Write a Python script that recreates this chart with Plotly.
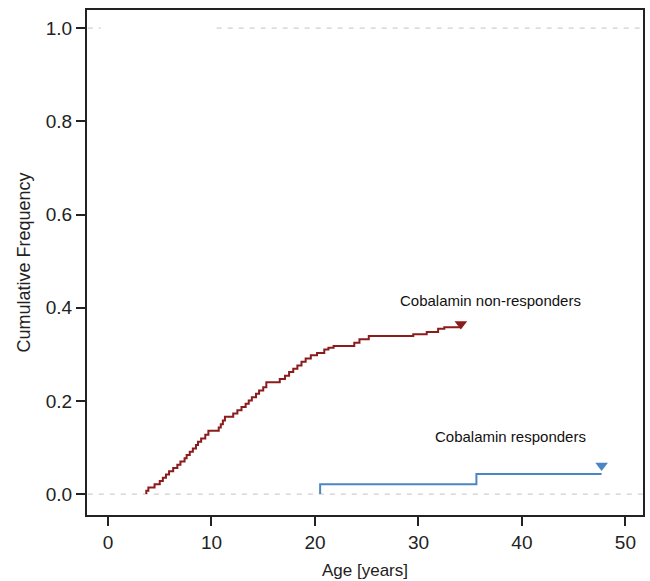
import plotly.graph_objects as go

# Cobalamin non-responders: step change points (age in years, cumulative frequency)
nonresp_age = [3.7, 3.7, 3.9, 4.5, 5.0, 5.3, 5.6, 5.9, 6.3, 6.7, 7.0, 7.4, 7.6, 7.9, 8.2, 8.5,
               8.7, 9.0, 9.4, 9.7, 10.7, 10.9, 11.1, 11.3, 12.1, 12.5, 12.9, 13.3, 13.6, 13.9,
               14.3, 14.6, 15.0, 15.3, 16.6, 17.1, 17.5, 17.9, 18.3, 18.7, 19.1, 19.6, 20.2,
               20.9, 21.3, 21.8, 23.8, 24.3, 25.2, 29.5, 30.8, 31.9, 32.5, 34.1]
nonresp_val = [0.0, 0.007, 0.014, 0.021, 0.028, 0.035, 0.042, 0.049, 0.056, 0.063, 0.070, 0.077,
               0.084, 0.091, 0.098, 0.105, 0.112, 0.119, 0.127, 0.136, 0.143, 0.150, 0.158,
               0.166, 0.173, 0.180, 0.187, 0.194, 0.201, 0.208, 0.215, 0.222, 0.229, 0.240,
               0.247, 0.254, 0.262, 0.269, 0.276, 0.284, 0.291, 0.298, 0.303, 0.310, 0.314,
               0.318, 0.325, 0.332, 0.339, 0.343, 0.348, 0.355, 0.358, 0.358]

# Cobalamin responders
resp_age = [20.5, 20.5, 35.6, 47.7]
resp_val = [0.0, 0.021, 0.043, 0.043]

x_ticks = [0, 10, 20, 30, 40, 50]
y_ticks = [0.0, 0.2, 0.4, 0.6, 0.8, 1.0]

red = "#8b1c1c"
blue = "#4a86c4"
grey = "#cfcfcf"

fig = go.Figure()

# reference dashed lines at 0 and 1
fig.add_trace(go.Scatter(x=[-1.95, 52], y=[0, 0], mode="lines",
                         line=dict(color=grey, width=1.3, dash="5px,6px"), hoverinfo="skip"))
fig.add_trace(go.Scatter(x=[-1.95, -0.7, None, 10.5, 52], y=[1, 1, None, 1, 1], mode="lines",
                         line=dict(color=grey, width=1.3, dash="5px,6px"), hoverinfo="skip"))

fig.add_trace(go.Scatter(x=nonresp_age, y=nonresp_val, mode="lines",
                         line=dict(color=red, width=2, shape="hv")))
fig.add_trace(go.Scatter(x=resp_age, y=resp_val, mode="lines",
                         line=dict(color=blue, width=2, shape="hv")))

# end-point triangle markers
fig.add_trace(go.Scatter(x=[nonresp_age[-1]], y=[nonresp_val[-1] + 0.007], mode="markers",
                         marker=dict(symbol="triangle-down", size=11, color=red)))
fig.add_trace(go.Scatter(x=[resp_age[-1]], y=[resp_val[-1] + 0.018], mode="markers",
                         marker=dict(symbol="triangle-down", size=11, color=blue)))

fig.add_annotation(x=37.0, y=0.416, text="Cobalamin non-responders", showarrow=False,
                   font=dict(size=15, color="#111111"))
fig.add_annotation(x=38.9, y=0.124, text="Cobalamin responders", showarrow=False,
                   font=dict(size=15, color="#111111"))

fig.update_layout(
    width=650, height=581,
    margin=dict(l=87, r=7, t=10, b=66, autoexpand=False),
    paper_bgcolor="white", plot_bgcolor="white",
    showlegend=False,
    font=dict(family="Liberation Sans, Arial, sans-serif", color="#222222"),
)
fig.update_xaxes(range=[-2.03, 51.7], tickvals=x_ticks, ticktext=[str(v) for v in x_ticks],
                 showgrid=False, zeroline=False, showline=True, linecolor="#222222",
                 linewidth=2, mirror=True, ticks="outside", ticklen=9, tickwidth=2,
                 tickcolor="#222222", tickfont=dict(size=19), automargin=False,
                 title=dict(text="Age [years]", font=dict(size=17), standoff=12))
fig.update_yaxes(range=[-0.045, 1.039], tickvals=y_ticks, ticktext=[f"{v:.1f}" for v in y_ticks],
                 showgrid=False, zeroline=False, showline=True, linecolor="#222222",
                 linewidth=2, mirror=True, ticks="outside", ticklen=9, tickwidth=2,
                 tickcolor="#222222", tickfont=dict(size=19), automargin=False,
                 title=dict(text="Cumulative Frequency", font=dict(size=18), standoff=10))

fig.write_html("out.html")
